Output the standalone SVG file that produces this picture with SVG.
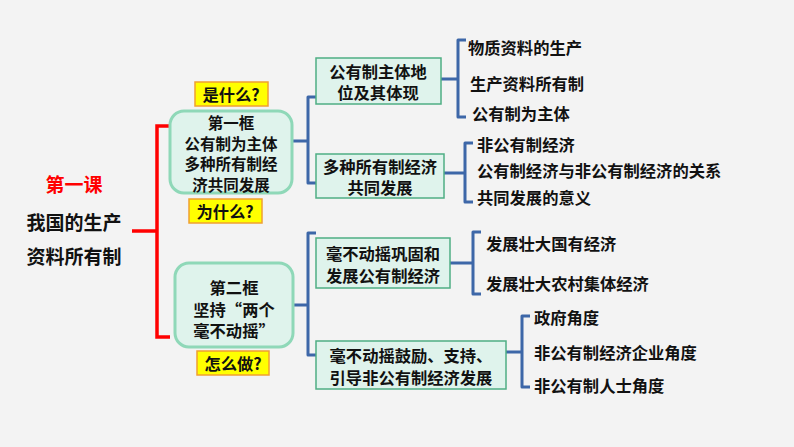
<svg xmlns="http://www.w3.org/2000/svg" width="794" height="447" viewBox="0 0 794 447">
<style>
text{font-family:"Noto Sans CJK SC","Noto Sans",sans-serif;font-weight:bold;font-size:16.3px;fill:#111;dominant-baseline:central}
.c{text-anchor:middle}
.big{font-size:19px}
.tight{font-size:15.5px}
.main{fill:#dff3ec;stroke:#8fd8b8;stroke-width:3}
.sub{fill:#dff3ec;stroke:#4fae84;stroke-width:1.5}
.q{fill:#ffff00;stroke:#f0a030;stroke-width:1.5}
.red{fill:none;stroke:#ff0000;stroke-width:3.5}
.blue{fill:none;stroke:#3d67a8;stroke-width:3;stroke-linejoin:round}
</style>
<rect width="794" height="447" fill="#f3f3f3"/>
<g id="title">
<text x="74" y="183" class="c big" style="fill:#ff0000">第一课</text>
<text x="74" y="221" class="c big">我国的生产</text>
<text x="74" y="255" class="c big">资料所有制</text>
</g>
<g id="connectors">
<path class="red" d="M132 231H157M170 126H157V337H170"/>
<path class="blue" d="M292 141H308M316 97H308V183H316"/>
<path class="blue" d="M441 79H458M466 40H458V117H466"/>
<path class="blue" d="M444 173H465M473 143H465V202H473"/>
<path class="blue" d="M293 305H308M316 233H308V355H316"/>
<path class="blue" d="M450 263H473M481 232H473V294H481"/>
<path class="blue" d="M506 352H522M530 316H522V387H530"/>
</g>
<g id="box1">
<rect class="main" x="170" y="111" width="122" height="82" rx="14"/>
<text x="231" y="122" class="c tight">第一框</text>
<text x="231" y="142.5" class="c tight">公有制为主体</text>
<text x="231" y="163" class="c tight">多种所有制经</text>
<text x="231" y="183.5" class="c tight">济共同发展</text>
</g>
<g id="box2">
<rect class="main" x="175" y="263" width="118" height="84" rx="14"/>
<text x="234" y="287" class="c">第二框</text>
<text x="234" y="309" class="c">坚持“两个</text>
<text x="234" y="330" class="c">毫不动摇”</text>
</g>
<g id="q1"><rect class="q" x="195" y="82" width="73" height="24"/><text x="231" y="94" class="c">是什么?</text></g>
<g id="q2"><rect class="q" x="189" y="199" width="73" height="24"/><text x="225" y="211" class="c">为什么?</text></g>
<g id="q3"><rect class="q" x="197" y="351" width="72" height="24"/><text x="233" y="363" class="c">怎么做?</text></g>
<g id="subA">
<rect class="sub" x="316" y="58" width="125" height="46"/>
<text x="378" y="71" class="c">公有制主体地</text>
<text x="378" y="92" class="c">位及其体现</text>
</g>
<g id="subB">
<rect class="sub" x="316" y="154" width="128" height="44"/>
<text x="380" y="166" class="c">多种所有制经济</text>
<text x="380" y="187" class="c">共同发展</text>
</g>
<g id="subC">
<rect class="sub" x="316" y="238" width="134" height="50"/>
<text x="383" y="253" class="c">毫不动摇巩固和</text>
<text x="383" y="275" class="c">发展公有制经济</text>
</g>
<g id="subD">
<rect class="sub" x="316" y="341" width="190" height="48"/>
<text x="411" y="355" class="c">毫不动摇鼓励、支持、</text>
<text x="411" y="377" class="c">引导非公有制经济发展</text>
</g>
<g id="leaves">
<text x="468" y="47">物质资料的生产</text>
<text x="470" y="83">生产资料所有制</text>
<text x="472" y="113">公有制为主体</text>
<text x="477" y="144">非公有制经济</text>
<text x="477" y="170">公有制经济与非公有制经济的关系</text>
<text x="477" y="197">共同发展的意义</text>
<text x="486" y="243">发展壮大国有经济</text>
<text x="486" y="283">发展壮大农村集体经济</text>
<text x="534" y="317">政府角度</text>
<text x="534" y="352">非公有制经济企业角度</text>
<text x="534" y="385">非公有制人士角度</text>
</g>
</svg>
